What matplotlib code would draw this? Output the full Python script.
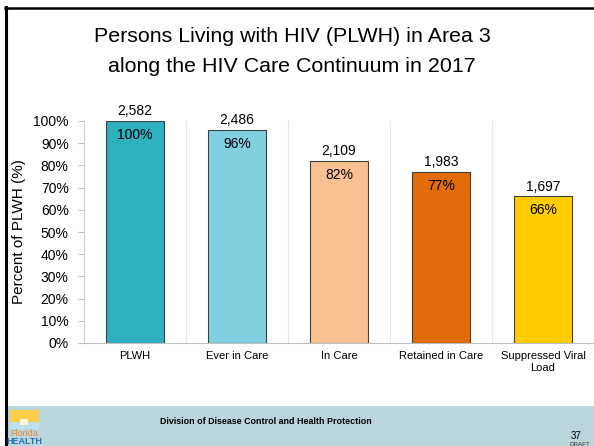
import matplotlib
matplotlib.use("Agg")
import matplotlib.pyplot as plt
from matplotlib.patches import Rectangle, Wedge
from matplotlib.lines import Line2D

categories = ["PLWH", "Ever in Care", "In Care", "Retained in Care", "Suppressed Viral\nLoad"]
counts = [2582, 2486, 2109, 1983, 1697]
percents = [100, 96, 82, 77, 66]
colors = ["#2DB1BE", "#80D0E2", "#F9C092", "#E36C0A", "#FFCC00"]
yticks = [0, 10, 20, 30, 40, 50, 60, 70, 80, 90, 100]

plt.rcParams['font.family'] = ['Liberation Sans', 'DejaVu Sans']

fig = plt.figure(figsize=(5.94, 4.46), dpi=100)
W, H = 594, 446

def fx(px):
    return px / W

def fy(py):
    return 1 - py / H

# slide frame
fig.add_artist(Line2D([fx(6), fx(6)], [fy(7), 0], color="black", lw=2.2, transform=fig.transFigure))
fig.add_artist(Line2D([fx(5), 1], [fy(7.5), fy(7.5)], color="black", lw=1.8, transform=fig.transFigure))

# footer band
fig.add_artist(Rectangle((fx(8), 0), 1 - fx(8), fy(406), facecolor="#BAD5DC", edgecolor="none",
                         transform=fig.transFigure))
fig.text(fx(266), fy(421), "Division of Disease Control and Health Protection", ha="center", va="center",
         fontsize=6.4, fontweight="bold", color="black")
fig.text(fx(576), fy(436), "37", ha="center", va="center", fontsize=7, color="black")
fig.text(fx(580), fy(445), "DRAFT", ha="center", va="center", fontsize=4.5, color="#333333")

# logo approximation
fig.add_artist(Rectangle((fx(10), fy(429)), fx(29), fy(410) - fy(429), facecolor="#F9CF4A", edgecolor="none",
                         transform=fig.transFigure))
fig.add_artist(Rectangle((fx(10), fy(429)), fx(29), fy(422) - fy(429), facecolor="#BFE0EA", edgecolor="none",
                         transform=fig.transFigure))
fig.add_artist(Rectangle((fx(20), fy(425)), fx(8), fy(419) - fy(425), facecolor="#FFF6D8", edgecolor="none",
                         transform=fig.transFigure))
fig.text(fx(24), fy(433), "Florida", ha="center", va="center", fontsize=6.5, color="#F08A2C")
fig.text(fx(24), fy(441.5), "HEALTH", ha="center", va="center", fontsize=6.5, fontweight="bold", color="#2677B8")

# title
fig.text(fx(292), fy(37), "Persons Living with HIV (PLWH) in Area 3", ha="center", va="center", fontsize=15.4)
fig.text(fx(292), fy(66), "along the HIV Care Continuum in 2017", ha="center", va="center", fontsize=15.4)

ax = fig.add_axes([fx(84), fy(343), 1 - fx(84), fy(121) - fy(343)])
x = list(range(len(categories)))
bars = ax.bar(x, percents, width=0.56, color=colors, edgecolor="#404040", linewidth=0.8, zorder=3)
ax.set_xlim(-0.5, len(categories) - 0.5)
ax.set_ylim(0, 100)
ax.set_yticks(yticks)
ax.set_yticklabels([f"{v}%" for v in yticks], fontsize=10)
ax.set_xticks(x)
ax.set_xticklabels(categories, fontsize=8)
ax.tick_params(axis="y", length=4, color="#BFBFBF", pad=7)
ax.tick_params(axis="x", length=0, pad=6)
for b in [0.5, 1.5, 2.5, 3.5]:
    ax.axvline(b, color="#E6E6E6", lw=0.8, zorder=1)
for s in ["top", "right"]:
    ax.spines[s].set_visible(False)
ax.spines["left"].set_color("#D0D0D0")
ax.spines["bottom"].set_color("#BFBFBF")
ax.set_ylabel("Percent of PLWH (%)", fontsize=11, labelpad=5)

for xi, c, p in zip(x, counts, percents):
    ax.annotate(f"{c:,}", (xi, p), xytext=(0, 2), textcoords="offset points", ha="center", va="bottom",
                fontsize=10)
    ax.annotate(f"{p}%", (xi, p), xytext=(0, -5), textcoords="offset points", ha="center", va="top",
                fontsize=10)

fig.savefig("out.png", dpi=100)
